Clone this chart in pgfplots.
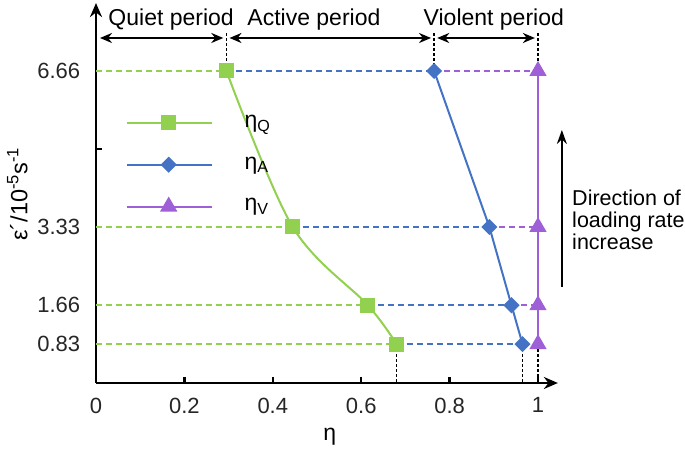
\documentclass[border=0pt]{standalone}
\usepackage{fontspec}
\setmainfont{Liberation Sans}
\usepackage{pgfplots}
\pgfplotsset{compat=1.18}
\usetikzlibrary{arrows.meta}
\definecolor{cq}{RGB}{146,208,80}
\definecolor{ca}{RGB}{68,114,196}
\definecolor{cv}{RGB}{158,95,215}
\begin{document}
\fontsize{23bp}{27bp}\selectfont
\begin{tikzpicture}
\begin{axis}[
  x=442bp, y=46.85bp,
  xmin=0, xmax=1.045, ymin=0, ymax=8.11,
  axis lines=left,
  axis line style={line width=2.5bp, black, -{Stealth[length=14bp,width=12bp]}},
  clip=false,
  tick align=inside,
  major tick length=6bp,
  tick style={line width=2.5bp, black},
  /pgf/number format/assume math mode=true,
  xtick={0,0.2,0.4,0.6,0.8,1},
  xticklabels={0,0.2,0.4,0.6,0.8,1},
  ytick={0.83,1.665,3.33,4.995,6.66},
  yticklabels={0.83,1.66,3.33,,6.66},
  ticklabel style={font=\fontsize{22bp}{26bp}\selectfont},
  xticklabel style={yshift=-7bp, text=black!85},
  yticklabel style={xshift=-8bp, text=black!85},
  legend cell align=left,
  legend style={draw=none, fill=none, at={(axis cs:0.06,5.81)}, anchor=north west,
    row sep=22bp, font=\fontsize{23bp}{27bp}\selectfont,
    /tikz/every odd column/.append style={column sep=30bp}},
  legend image code/.code={\draw[mark repeat=2,mark phase=2,#1] plot coordinates {(0bp,0bp)(42bp,0bp)(85bp,0bp)};},
]
% dashed helper lines
\addplot[cq, line width=2bp, dash pattern=on 6bp off 4bp, forget plot] coordinates {(0,6.66)(0.295,6.66)};
\addplot[cq, line width=2bp, dash pattern=on 6bp off 4bp, forget plot] coordinates {(0,3.33)(0.445,3.33)};
\addplot[cq, line width=2bp, dash pattern=on 6bp off 4bp, forget plot] coordinates {(0,1.66)(0.615,1.66)};
\addplot[cq, line width=2bp, dash pattern=on 6bp off 4bp, forget plot] coordinates {(0,0.83)(0.68,0.83)};
\addplot[ca, line width=2bp, dash pattern=on 6bp off 4bp, forget plot] coordinates {(0.295,6.66)(0.765,6.66)};
\addplot[ca, line width=2bp, dash pattern=on 6bp off 4bp, forget plot] coordinates {(0.445,3.33)(0.89,3.33)};
\addplot[ca, line width=2bp, dash pattern=on 6bp off 4bp, forget plot] coordinates {(0.615,1.66)(0.94,1.66)};
\addplot[ca, line width=2bp, dash pattern=on 6bp off 4bp, forget plot] coordinates {(0.68,0.83)(0.965,0.83)};
\addplot[cv, line width=2bp, dash pattern=on 6bp off 4bp, forget plot] coordinates {(0.765,6.66)(1,6.66)};
\addplot[cv, line width=2bp, dash pattern=on 6bp off 4bp, forget plot] coordinates {(0.89,3.33)(1,3.33)};
\addplot[cv, line width=2bp, dash pattern=on 6bp off 4bp, forget plot] coordinates {(0.94,1.66)(1,1.66)};
\addplot[cv, line width=2bp, dash pattern=on 6bp off 4bp, forget plot] coordinates {(0.965,0.83)(1,0.83)};
% black dashed verticals
\addplot[black, line width=1.5bp, dash pattern=on 3bp off 2bp, forget plot] coordinates {(0.295,6.66)(0.295,7.47)};
\addplot[black, line width=1.5bp, dash pattern=on 3bp off 2bp, forget plot] coordinates {(0.765,6.66)(0.765,7.47)};
\addplot[black, line width=1.5bp, dash pattern=on 3bp off 2bp, forget plot] coordinates {(1,6.66)(1,7.47)};
\addplot[black, line width=1.5bp, dash pattern=on 3bp off 2bp, forget plot] coordinates {(0.68,0.83)(0.68,0)};
\addplot[black, line width=1.5bp, dash pattern=on 3bp off 2bp, forget plot] coordinates {(0.965,0.83)(0.965,0)};
\addplot[black, line width=1.5bp, dash pattern=on 3bp off 2bp, forget plot] coordinates {(1,0.83)(1,0)};
% main series
\addplot[cq, line width=2bp, smooth, tension=0.55, mark=square*, mark size=6.5bp, mark options={solid, fill=cq}]
  coordinates {(0.295,6.66)(0.445,3.33)(0.615,1.66)(0.68,0.83)};
\addlegendentry{η\textsubscript{Q}}
\addplot[ca, line width=2bp, mark=square*, mark size=4.7bp, mark options={solid, fill=ca, rotate=45}]
  coordinates {(0.765,6.66)(0.89,3.33)(0.94,1.66)(0.965,0.83)};
\addlegendentry{η\textsubscript{A}}
\addplot[cv, line width=2bp, mark=triangle*, mark size=8bp, mark options={solid, fill=cv}]
  coordinates {(1,6.66)(1,3.33)(1,1.66)(1,0.83)};
\addlegendentry{η\textsubscript{V}}
% period arrows
\draw[black, line width=2bp, {Stealth[length=12bp,width=10bp]}-{Stealth[length=12bp,width=10bp]}] (axis cs:0.009,7.364) -- (axis cs:0.288,7.364);
\draw[black, line width=2bp, {Stealth[length=12bp,width=10bp]}-{Stealth[length=12bp,width=10bp]}] (axis cs:0.302,7.364) -- (axis cs:0.758,7.364);
\draw[black, line width=2bp, {Stealth[length=12bp,width=10bp]}-{Stealth[length=12bp,width=10bp]}] (axis cs:0.772,7.364) -- (axis cs:0.993,7.364);
\node[anchor=base] at (axis cs:0.170,7.641) {Quiet period};
\node[anchor=base] at (axis cs:0.493,7.641) {Active period};
\node[anchor=base] at (axis cs:0.900,7.641) {Violent period};
% direction arrow
\draw[black, line width=2bp, -{Stealth[length=14bp,width=10bp]}] (axis cs:1.054,2.049) -- (axis cs:1.054,5.40);
\node[anchor=base west, align=left, inner sep=0pt, font=\fontsize{21.5bp}{22bp}\selectfont] at (axis cs:1.077,2.86) {Direction of\\loading rate\\increase};
% axis labels
\node[rotate=90, font=\fontsize{23.5bp}{27bp}\selectfont] at (axis cs:-0.178,4.03) {ε´/10\textsuperscript{-5}s\textsuperscript{-1}};
\node at (axis cs:0.529,-1.153) {η};
\coordinate (bbl) at (axis cs:-0.2172,-1.4088);
\coordinate (btr) at (axis cs:1.3326,8.175);
\end{axis}
\pgfresetboundingbox
\path (bbl) rectangle (btr);
\end{tikzpicture}
\end{document}
